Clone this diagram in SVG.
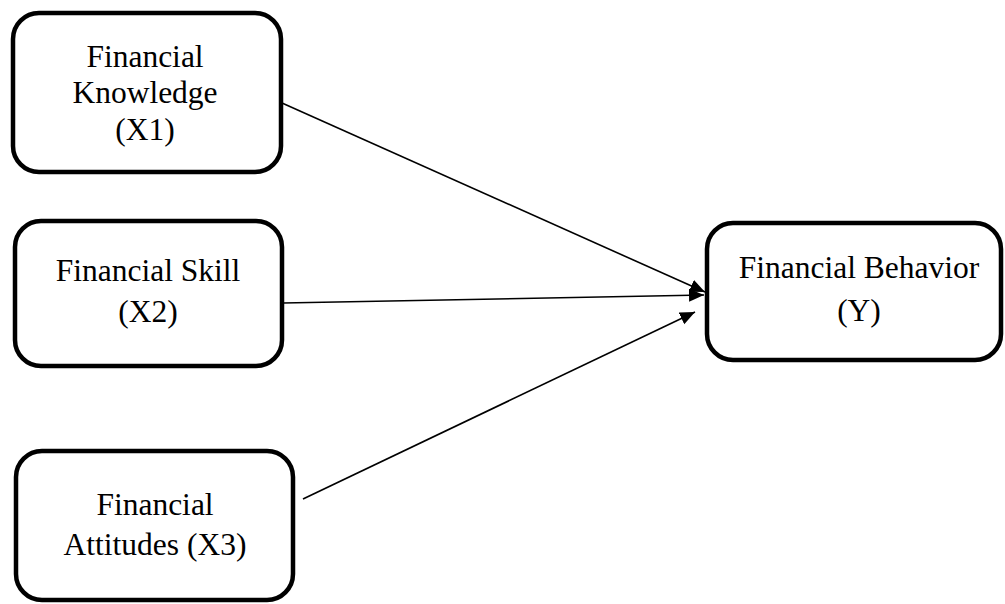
<svg xmlns="http://www.w3.org/2000/svg" width="1005" height="604" viewBox="0 0 1005 604">
<style>
.box{fill:#fff;stroke:#000;stroke-width:4.5}
.t{font-family:"Liberation Serif","Times New Roman",serif;font-size:31.5px;fill:#000;text-anchor:middle}
.c{stroke:#000;stroke-width:1.6;fill:none;marker-end:url(#ah)}
</style>
<defs>
<marker id="ah" markerUnits="userSpaceOnUse" markerWidth="18" markerHeight="14" refX="15" refY="6.5" orient="auto">
<path d="M0,0 L15,6.5 L0,13 Z" fill="#000"/>
</marker>
</defs>
<rect width="1005" height="604" fill="#fff"/>
<g id="connectors">
<line class="c" x1="282" y1="103" x2="705" y2="292"/>
<line class="c" x1="283" y1="303" x2="704" y2="295"/>
<line class="c" x1="303" y1="499" x2="695" y2="312"/>
</g>
<g id="x1">
<rect class="box" x="13" y="13" width="268" height="159" rx="26"/>
<text class="t" x="145" y="67">Financial</text>
<text class="t" x="145" y="103">Knowledge</text>
<text class="t" x="145" y="140">(X1)</text>
</g>
<g id="x2">
<rect class="box" x="15" y="221" width="267" height="145" rx="26"/>
<text class="t" x="148" y="281">Financial Skill</text>
<text class="t" x="148" y="322">(X2)</text>
</g>
<g id="x3">
<rect class="box" x="16" y="451" width="277" height="149" rx="26"/>
<text class="t" x="155" y="515">Financial</text>
<text class="t" x="155" y="555">Attitudes (X3)</text>
</g>
<g id="y">
<rect class="box" x="707" y="223" width="294" height="137" rx="26"/>
<text class="t" x="859" y="278">Financial Behavior</text>
<text class="t" x="859" y="321">(Y)</text>
</g>
</svg>
